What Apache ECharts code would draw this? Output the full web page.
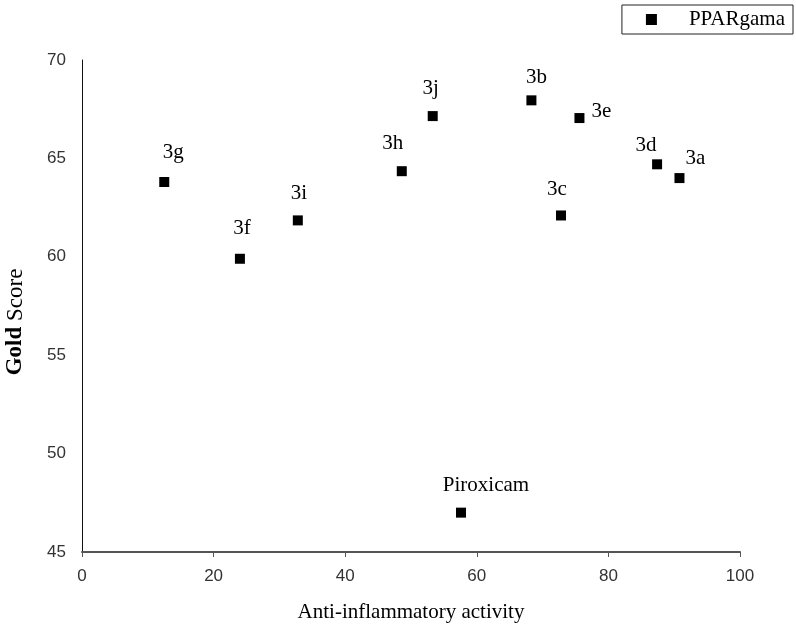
<!DOCTYPE html>
<html>
<head>
<meta charset="utf-8">
<script src="https://cdn.jsdelivr.net/npm/echarts@6/dist/echarts.min.js"></script>
<style>
  html, body { margin: 0; padding: 0; background: #fff; }
  #chart { width: 796px; height: 628px; }
</style>
</head>
<body>
<div id="chart"></div>
<script>
// compound names and values
var names = ['3g', '3f', '3i', '3h', '3j', '3b', '3e', '3c', '3d', '3a', 'Piroxicam'];
var activity = [12.5, 24.0, 32.8, 48.6, 53.3, 68.3, 75.6, 72.8, 87.4, 90.8, 57.6];
var goldScore = [63.8, 59.9, 61.85, 64.35, 67.15, 67.95, 67.05, 62.1, 64.7, 64.0, 47.0];
var xTicks = [0, 20, 40, 60, 80, 100];
var yTicks = [45, 50, 55, 60, 65, 70];

// where each label sits next to its point
var labelOffsets = {
  '3g': [9, 0], '3f': [2, -1], '3i': [1, 3], '3h': [-9, 2], '3j': [-2, 2],
  '3b': [5, 7], '3c': [-4, 4], '3d': [-11, 11], '3a': [16, 10], '3e': [22, 23],
  'Piroxicam': [25, 2]
};

var points = names.map(function (n, i) {
  return {
    name: n,
    value: [activity[i], goldScore[i]],
    label: { offset: labelOffsets[n] }
  };
});

var serif = 'Liberation Serif';
var sans = 'Liberation Sans';

var chart = echarts.init(document.getElementById('chart'));
chart.setOption({
  animation: false,
  legend: {
    right: 3, top: 5,
    itemWidth: 11, itemHeight: 11,
    padding: [4, 8, 4, 24],
    borderColor: '#222', borderWidth: 1,
    textStyle: { fontFamily: serif, fontSize: 21, color: '#000', padding: [0, 0, 0, 27] },
    data: [{ name: 'PPARgama', icon: 'rect', itemStyle: { color: '#000', opacity: 1 } }]
  },
  grid: { left: 82, right: 56, top: 60, bottom: 76, outerBoundsMode: 'none', containLabel: false },
  xAxis: {
    type: 'value', min: xTicks[0], max: xTicks[xTicks.length - 1], interval: 20,
    name: 'Anti-inflammatory activity', nameLocation: 'middle', nameGap: 50,
    nameTextStyle: { fontFamily: serif, fontSize: 21, color: '#000' },
    axisLine: { lineStyle: { color: '#555', width: 2 } },
    axisTick: { show: true, length: 5, lineStyle: { color: '#555', width: 1 } },
    axisLabel: { fontFamily: sans, fontSize: 17, color: '#333', margin: 16 },
    splitLine: { show: false }
  },
  yAxis: {
    type: 'value', min: yTicks[0], max: yTicks[yTicks.length - 1], interval: 5,
    name: '{b|Gold} Score', nameLocation: 'middle', nameGap: 55,
    nameTextStyle: {
      fontFamily: serif, fontSize: 23, color: '#000', padding: [0, 32, 0, 0],
      rich: { b: { fontFamily: serif, fontSize: 23, fontWeight: 'bold', color: '#000' } }
    },
    axisLine: { show: true, lineStyle: { color: '#111', width: 1 } },
    axisTick: { show: false },
    axisLabel: { fontFamily: sans, fontSize: 17, color: '#333', margin: 16 },
    splitLine: { show: false }
  },
  series: [{
    name: 'PPARgama',
    type: 'scatter',
    symbol: 'rect',
    symbolSize: 10,
    itemStyle: { color: '#000', opacity: 1 },
    label: {
      show: true, position: 'top', distance: 14,
      formatter: '{b}',
      fontFamily: serif, fontSize: 21, color: '#000'
    },
    data: points
  }]
});
</script>
</body>
</html>
